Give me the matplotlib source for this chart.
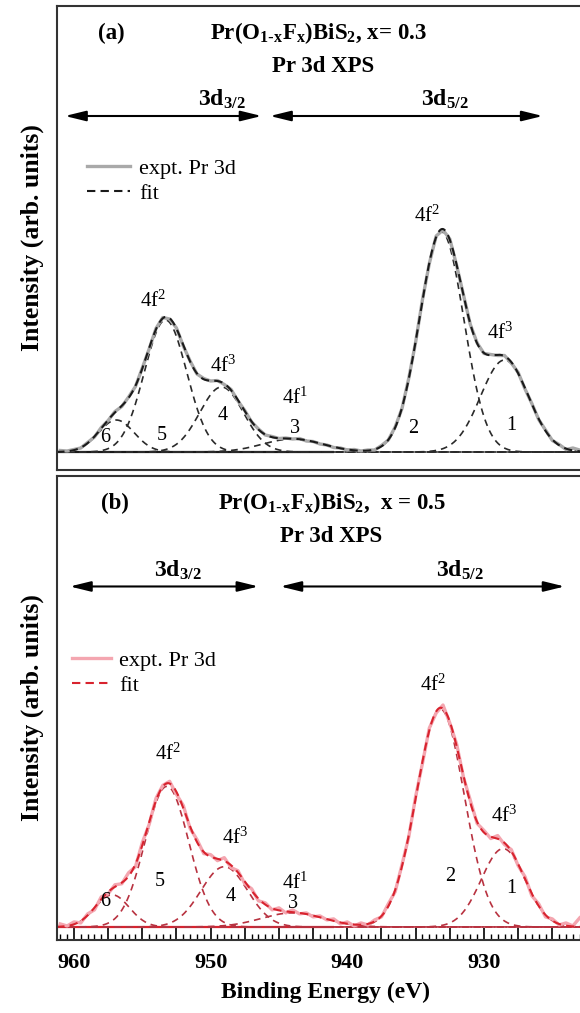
import numpy as np
import matplotlib
matplotlib.use("Agg")
import matplotlib.pyplot as plt
from matplotlib.ticker import MultipleLocator, FuncFormatter

plt.rcParams['font.family'] = ['Liberation Serif', 'DejaVu Serif']
plt.rcParams['mathtext.default'] = 'regular'

# energy grid of the measured spectra (eV)
energy = np.arange(961.0, 922.9, -0.5)

# panel (a) x = 0.3 : measured Pr 3d spectrum (arb. units, background removed)
expt_a = [1.5, 1.0, 2.5, 4.0, 9.5, 15.0, 24.5, 31.5, 40.5, 45.5, 55.0, 65.5, 84.0,
          103.0, 123.5, 134.5, 133.0, 124.0, 106.0, 91.0, 78.0, 73.5, 71.0, 71.5,
          67.5, 62.5, 51.0, 41.5, 30.0, 23.0, 17.0, 15.5, 13.5, 14.0, 13.0, 13.5,
          11.0, 10.5, 8.0, 7.0, 4.5, 4.0, 2.0, 2.5, 1.0, 2.0, 2.0, 6.5, 12.0, 25.0,
          43.5, 74.0, 110.0, 152.5, 188.5, 216.0, 222.0, 213.0, 186.5, 157.0, 127.5,
          109.0, 98.5, 97.5, 96.5, 96.5, 89.0, 79.5, 63.0, 48.5, 32.5, 22.0, 11.5,
          7.5, 2.5, 4.0, 2.0]
# fitted components 1..6 : centre (eV), height, gaussian sigma (eV)
cen_a = [928.5, 933.1, 944.0, 949.2, 953.3, 956.9]
amp_a = [92, 220, 13, 65, 132, 32]
sig_a = [1.75, 1.62, 2.2, 1.6, 1.55, 1.3]

# panel (b) x = 0.5
expt_b = [3, 1, 5, 4, 13, 17, 30, 33, 42, 43, 54, 60, 84, 102, 128, 141, 145, 132,
          121, 98, 87, 73, 72, 66, 69, 59, 56, 43, 38, 26, 24, 17, 19, 14, 17, 13,
          14, 10, 11, 7, 8, 3, 5, 1, 4, 2, 7, 10, 23, 35, 62, 90, 130, 163, 198, 213,
          221, 203, 182, 149, 126, 103, 96, 88, 91, 82, 77, 61, 50, 31, 23, 10, 8, 2,
          4, 1, 9]
cen_b = [928.6, 933.2, 944.0, 949.0, 953.2, 957.2]
amp_b = [78, 217, 14, 60, 140, 32]
sig_b = [1.6, 1.75, 2.3, 1.7, 1.6, 1.25]

# background line under the 3d3/2 region
bg_x = [961.3, 941.0]
bg_y = [0, 0]

peak_names = ['1', '2', '3', '4', '5', '6']
# (label, energy, height) for the 4f^n assignments
lab_a = [('4f$^2$', 954.2, 145), ('4f$^3$', 949.1, 80), ('4f$^1$', 943.8, 48),
         ('4f$^2$', 934.2, 230), ('4f$^3$', 928.8, 113)]
num_a = [(928.0, 27), (935.2, 24), (943.8, 24), (949.1, 37), (953.6, 17), (957.7, 15)]
lab_b = [('4f$^2$', 953.1, 166), ('4f$^3$', 948.2, 83), ('4f$^1$', 943.8, 38),
         ('4f$^2$', 933.7, 235), ('4f$^3$', 928.5, 105)]
num_b = [(928.0, 38), (932.5, 50), (944.0, 23), (948.5, 30), (953.7, 45), (957.7, 25)]

xf = np.linspace(961.3, 922.8, 600)


def gauss(x, c, a, s):
    return a * np.exp(-(x - c) ** 2 / (2 * s ** 2))


fig = plt.figure(figsize=(5.8, 10.13), dpi=100)
ax_a = fig.add_axes([57 / 580, 543 / 1013, 525 / 580, 464 / 1013])
ax_b = fig.add_axes([57 / 580, 73 / 1013, 525 / 580, 464 / 1013])

panels = [
    (ax_a, expt_a, cen_a, amp_a, sig_a, lab_a, num_a, '#a9a9a9', '#1a1a1a', '#2a2a2a',
     '(a)', r'Pr(O$_{1\text{-}x}$F$_x$)BiS$_2$, x= 0.3', (-18, 446),
     [960.66, 946.27, 945.66, 925.7], (949.2, 932.9), (0.0566, 0.672), 1.95,
     (957.3, 942.1, 941.8)),
    (ax_b, expt_b, cen_b, amp_b, sig_b, lab_b, num_b, '#f4a6b0', '#d8232e', '#b83240',
     '(b)', r'Pr(O$_{1\text{-}x}$F$_x$)BiS$_2$,  x = 0.5', (-13, 449),
     [960.3, 946.5, 944.9, 924.1], (952.4, 931.8), (0.028, 0.625), 1.75,
     (957.0, 941.1, 941.2)),
]

for (ax, expt, cen, amp, sig, labs, nums, c_expt, c_fit, c_comp, tag, title, ylim,
     arr, d_pos, leg_pos, hlen, t_pos) in panels:
    ax.plot(bg_x, bg_y, color=c_fit, lw=1.6, solid_capstyle='butt')
    for c, a, s in zip(cen, amp, sig):
        ax.plot(xf, gauss(xf, c, a, s), color=c_comp, lw=1.2, ls=(0, (4, 3)))
    l_expt, = ax.plot(energy, expt, color=c_expt, lw=2.4, label='expt. Pr 3d')
    fit = sum(gauss(xf, c, a, s) for c, a, s in zip(cen, amp, sig))
    l_fit, = ax.plot(xf, fit, color=c_fit, lw=1.5, ls=(0, (4, 2.5)), label='fit')

    ax.set_xlim(961.24, 922.83)
    ax.set_ylim(*ylim)

    top = ylim[1]
    ax.text(t_pos[0], top - 33, tag, fontsize=16.5, fontweight='bold', ha='center', va='baseline')
    ax.text(t_pos[1], top - 33, title, fontsize=16.5, fontweight='bold', ha='center', va='baseline')
    ax.text(t_pos[2], top - 66, 'Pr 3d XPS', fontsize=16.5, fontweight='bold', ha='center', va='baseline')
    ax.text(d_pos[0], top - 100, '3d$_{3/2}$', fontsize=17, fontweight='bold', ha='center', va='baseline')
    ax.text(d_pos[1], top - 100, '3d$_{5/2}$', fontsize=17, fontweight='bold', ha='center', va='baseline')
    ya = top - 110
    for x0, x1 in [(arr[0], arr[1]), (arr[2], arr[3])]:
        ax.annotate('', xy=(x1, ya), xytext=(x0, ya),
                    arrowprops=dict(arrowstyle='<|-|>,head_length=0.9,head_width=0.22',
                                    color='black', lw=1.5, mutation_scale=14,
                                    shrinkA=0, shrinkB=0))

    for txt, x, y in labs:
        ax.text(x, y, txt, fontsize=15, ha='center', va='baseline')
    for name, (x, y) in zip(peak_names, nums):
        ax.text(x, y, name, fontsize=14.5, ha='center', va='center')

    ax.legend(handles=[l_expt, l_fit], loc='upper left', bbox_to_anchor=leg_pos,
              frameon=False, fontsize=16, handlelength=hlen, handletextpad=0.4,
              labelspacing=0.22, borderpad=0, borderaxespad=0)

    for sp in ax.spines.values():
        sp.set_color('#333333')
        sp.set_linewidth(1.5)
    ax.spines['right'].set_visible(False)
    ax.set_ylabel('Intensity (arb. units)', fontsize=18.5, fontweight='bold')
    ax.yaxis.set_label_coords(-0.025, 0.5)

ax_a.set_xticks([])
ax_a.set_yticks([])
ax_b.set_yticks([])
ax_b.xaxis.set_major_locator(MultipleLocator(2.5))
ax_b.xaxis.set_minor_locator(MultipleLocator(0.5))
ax_b.xaxis.set_major_formatter(FuncFormatter(
    lambda v, p: '%d' % round(v) if abs(v / 10 - round(v / 10)) < 1e-6 else ''))
ax_b.tick_params(axis='x', which='major', direction='in', length=8.6, width=1.2, pad=9,
                 labelsize=16)
ax_b.tick_params(axis='x', which='minor', direction='in', length=4.3, width=1.0)
for t in ax_b.get_xticklabels():
    t.set_fontweight('bold')
ax_b.set_xlabel('Binding Energy (eV)', fontsize=17, fontweight='bold')
ax_b.xaxis.set_label_coords(0.512, -0.09)

fig.savefig('out.png', dpi=100)
